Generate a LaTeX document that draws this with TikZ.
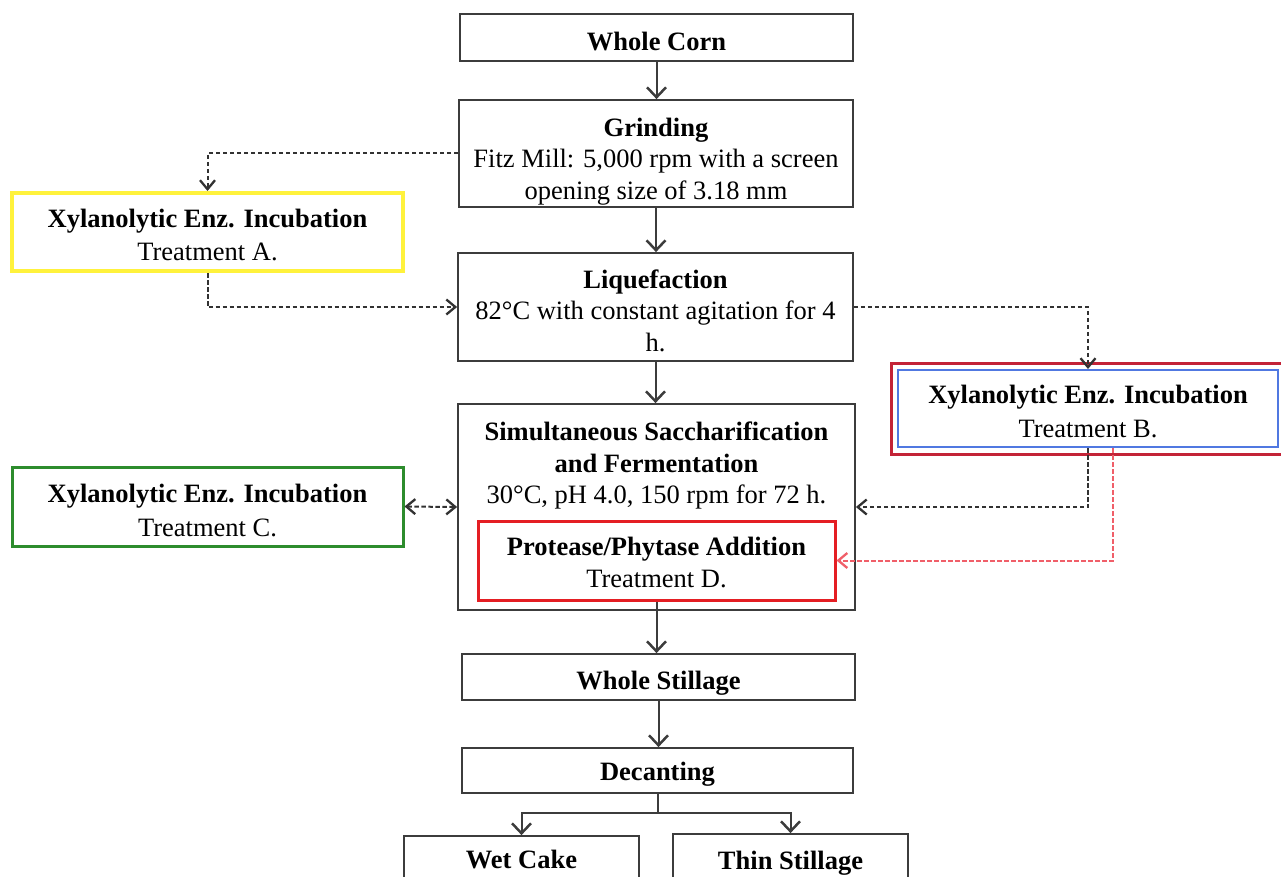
\documentclass[tikz,border=0pt]{standalone}
\usepackage{fontspec}
\setmainfont{Liberation Serif}
\usetikzlibrary{positioning,arrows.meta,fit}
\definecolor{boxline}{RGB}{60,60,60}
\definecolor{dashline}{RGB}{50,50,50}
\definecolor{yelA}{RGB}{255,242,60}
\definecolor{grnC}{RGB}{45,140,45}
\definecolor{redD}{RGB}{228,30,35}
\definecolor{redB}{RGB}{195,35,55}
\definecolor{bluB}{RGB}{80,120,225}
\definecolor{redL}{RGB}{240,95,105}
% pushes a box's text down by #1 pt
\newcommand{\drop}[1]{\rule{0pt}{\dimexpr18pt+#1pt*2\relax}}

\begin{document}
\begin{tikzpicture}[x=1pt,y=-1pt,
  box/.style={draw=boxline,line width=1.8pt,fill=white,align=center,inner sep=0pt,
    font=\fontsize{26.5}{31.5}\selectfont},
  flow/.style={draw=boxline,line width=2pt,-{Straight Barb[length=10pt,width=19pt,line width=2.5pt]}},
  dflow/.style={draw=dashline,line width=2pt,dash pattern=on 4.5pt off 2.5pt,
    -{Straight Barb[length=9pt,width=15pt,line width=2.3pt]}}]
\useasboundingbox (0,0) rectangle (1281,877);
% main column
\node[box,minimum width=393pt,minimum height=47pt] (corn) at (656.5,37.5) {\drop{4}\textbf{Whole Corn}};
\node[box,minimum width=394pt,minimum height=107pt] (grind) at (656,153.5)
  {\drop{8}\textbf{Grinding}\\Fitz Mill: 5,000 rpm with a screen\\opening size of 3.18 mm};
\node[box,minimum width=395pt,minimum height=108pt] (liq) at (655.5,307)
  {\drop{4}\textbf{Liquefaction}\\82°C with constant agitation for 4\\h.};
\node[box,minimum width=397pt,minimum height=206pt] (ssf) at (656.5,507) {};
\node[box,draw=none,fill=none] (ssftext) at (656.5,465.5)
  {\textbf{Simultaneous Saccharification}\\\textbf{and Fermentation}\\30°C, pH 4.0, 150 rpm for 72 h.};
\node[box,draw=redD,line width=3pt,minimum width=357pt,minimum height=79pt] (prot) at (656.5,560.5)
  {\drop{2}\textbf{Protease/Phytase Addition}\\Treatment D.};
\node[box,minimum width=393pt,minimum height=46pt] (still) at (658.5,677) {\drop{6}\textbf{Whole Stillage}};
\node[box,minimum width=391pt,minimum height=45pt] (dec) at (657.5,770.5) {\drop{4}\textbf{Decanting}};
\node[box,minimum width=235pt,minimum height=46pt] (wet) at (521.5,859) {\drop{1}\textbf{Wet Cake}};
\node[box,minimum width=235pt,minimum height=46pt] (thin) at (790.5,857) {\drop{6}\textbf{Thin Stillage}};
% enzyme treatments
\node[box,draw=yelA,line width=4pt,minimum width=391pt,minimum height=78pt] (xylA) at (207.5,232)
  {\drop{3}\textbf{Xylanolytic Enz. Incubation}\\[2pt]Treatment A.};
\node[box,draw=bluB,line width=2pt,minimum width=380pt,minimum height=77pt] (xylB) at (1088,408.5)
  {\drop{3}\textbf{Xylanolytic Enz. Incubation}\\[2pt]Treatment B.};
\node[fit=(xylB),draw=redB,line width=3pt,inner sep=6pt] (xylBframe) {};
\node[box,draw=grnC,line width=3pt,minimum width=391pt,minimum height=79pt] (xylC) at (207.5,506.5)
  {\drop{4}\textbf{Xylanolytic Enz. Incubation}\\[2pt]Treatment C.};
% solid flow
\draw[flow] (corn.south) -- (corn.south |- grind.north);
\draw[flow] (grind.south) -- (grind.south |- liq.north);
\draw[flow] (liq.south) -- (liq.south |- ssf.north);
\draw[flow] (prot.south) -- (prot.south |- still.north);
\draw[flow] (still.south) -- (still.south |- dec.north);
\coordinate (split) at ([yshift=-19pt]dec.south);
\draw[boxline,line width=2pt] (dec.south) -- (split);
\draw[flow] (split) -| (wet.north);
\draw[flow] (split) -| (thin.north);
% dashed treatment paths
\draw[dflow] (grind.west) -| (xylA.north);
\draw[dflow] (xylA.south) |- (liq.west);
\draw[dflow] (liq.east) -| (xylB.north);
\draw[dflow] (xylB.south) |- (ssf.east);
\draw[dflow,draw=redL] ([xshift=25pt]xylB.south) |- (prot.east);
\draw[dflow,{Straight Barb[length=9pt,width=15pt,line width=2.3pt]}-{Straight Barb[length=9pt,width=15pt,line width=2.3pt]}] (xylC.east) -- (ssf.west);
\end{tikzpicture}
\end{document}
